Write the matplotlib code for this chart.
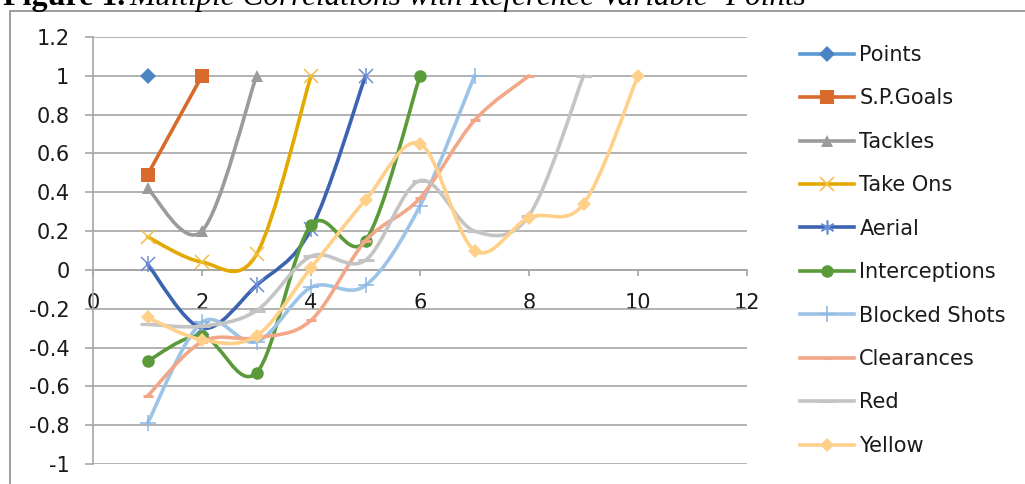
import numpy as np
import matplotlib
matplotlib.use("Agg")
import matplotlib.pyplot as plt
from matplotlib.path import Path
from matplotlib.patches import PathPatch, Rectangle
from matplotlib.lines import Line2D

# ---------------- data ----------------
series_names = ["Points", "S.P.Goals", "Tackles", "Take Ons", "Aerial",
                "Interceptions", "Blocked Shots", "Clearances", "Red", "Yellow"]
points = [1.0]
sp_goals = [0.49, 1.0]
tackles = [0.42, 0.20, 1.0]
take_ons = [0.17, 0.04, 0.08, 1.0]
aerial = [0.03, -0.30, -0.08, 0.21, 1.0]
interceptions = [-0.47, -0.34, -0.53, 0.23, 0.15, 1.0]
blocked_shots = [-0.79, -0.27, -0.37, -0.09, -0.08, 0.33, 1.0]
clearances = [-0.65, -0.37, -0.35, -0.26, 0.15, 0.37, 0.77, 1.0]
red = [-0.28, -0.29, -0.21, 0.07, 0.05, 0.46, 0.20, 0.28, 1.0]
yellow = [-0.245, -0.36, -0.34, 0.01, 0.36, 0.65, 0.10, 0.27, 0.34, 1.0]
all_series = [points, sp_goals, tackles, take_ons, aerial,
              interceptions, blocked_shots, clearances, red, yellow]

y_ticks = [-1, -0.8, -0.6, -0.4, -0.2, 0, 0.2, 0.4, 0.6, 0.8, 1, 1.2]
y_tick_labels = ["-1", "-0.8", "-0.6", "-0.4", "-0.2", "0", "0.2", "0.4",
                 "0.6", "0.8", "1", "1.2"]
x_ticks = [0, 2, 4, 6, 8, 10, 12]
x_tick_labels = ["0", "2", "4", "6", "8", "10", "12"]

# ---------------- styles ----------------
line_colors = ["#5B9BD5", "#DA6A2B", "#9B9B9B", "#E3A900", "#3C63B0",
               "#5A9A3A", "#9DC3E6", "#F2A888", "#C4C4C4", "#FFD08A"]
marker_colors = ["#4A84C2", "#DA6A2B", "#9B9B9B", "#F2C04A", "#6A8ED6",
                 "#5A9A3A", "#8DB8E6", "#F2A888", "#C4C4C4", "#FFD08A"]
markers = ["D", "s", "^", "x", "*x", "o", "+", "_", "_", "D"]
msizes = [8, 10, 9, 10, 10, 9, 11, 7, 11, 7]

W, H = 1025, 484
fig = plt.figure(figsize=(W / 100, H / 100), dpi=100)
fig.patch.set_facecolor("white")

# chart-area border (extends past right/bottom edges)
fig.patches.append(Rectangle((10 / W, -0.05), 1.2, 1 - 11 / H + 0.05,
                             transform=fig.transFigure, fill=False,
                             edgecolor="#8C8C8C", lw=1.2))

ax = fig.add_axes([93 / W, 1 - 464 / H, (747 - 93) / W, (464 - 37) / H])
ax.set_xlim(0, 12)
ax.set_ylim(-1, 1.2)

grid_c = "#A6A6A6"
for s in ["top", "right"]:
    ax.spines[s].set_visible(False)
ax.spines["left"].set_color(grid_c)
ax.spines["left"].set_linewidth(1.2)
ax.spines["bottom"].set_position(("data", 0))
ax.spines["bottom"].set_color(grid_c)
ax.spines["bottom"].set_linewidth(1.2)

ax.set_yticks(y_ticks)
ax.set_yticklabels(y_tick_labels)
ax.set_xticks(x_ticks)
ax.set_xticklabels(x_tick_labels)
ax.yaxis.grid(True, color=grid_c, lw=1.2)
ax.set_axisbelow(True)
ax.tick_params(axis="y", length=6, width=1.2, color=grid_c, pad=11,
               labelsize=15, labelcolor="#1a1a1a")
ax.tick_params(axis="x", direction="out", length=4.5, width=1.2, color=grid_c,
               pad=12, labelsize=15, labelcolor="#1a1a1a")
for lab in ax.get_xticklabels() + ax.get_yticklabels():
    lab.set_fontfamily("DejaVu Sans")


def smooth_path(xs, ys):
    P = np.column_stack([xs, ys]).astype(float)
    n = len(P)
    verts = [P[0]]
    codes = [Path.MOVETO]
    for i in range(n - 1):
        p0 = P[i - 1] if i > 0 else P[i]
        p1 = P[i]
        p2 = P[i + 1]
        p3 = P[i + 2] if i + 2 < n else P[i + 1]
        verts += [p1 + (p2 - p0) / 6.0, p2 - (p3 - p1) / 6.0, p2]
        codes += [Path.CURVE4] * 3
    return Path(verts, codes)


def draw_markers(xs, ys, m, color, ms, z, axis=ax):
    if m == "*x":
        axis.plot(xs, ys, ls="none", marker="x", ms=ms, mew=1.1, color=color, zorder=z)
        axis.plot(xs, ys, ls="none", marker="|", ms=ms * 1.15, mew=1.1, color=color, zorder=z)
    elif m in ("x", "+"):
        axis.plot(xs, ys, ls="none", marker=m, ms=ms, mew=1.1, color=color, zorder=z)
    elif m == "_":
        axis.plot(xs, ys, ls="none", marker=m, ms=ms, mew=2.2, color=color, zorder=z)
    else:
        axis.plot(xs, ys, ls="none", marker=m, ms=ms, mew=0, color=color, zorder=z)


for k, ys in enumerate(all_series):
    xs = np.arange(1, len(ys) + 1)
    z = 3 + k
    if len(ys) > 1:
        ax.add_patch(PathPatch(smooth_path(xs, ys), fill=False,
                               edgecolor=line_colors[k], lw=2.6, zorder=z,
                               capstyle="round", joinstyle="round"))
    draw_markers(xs, ys, markers[k], marker_colors[k], msizes[k], z + 0.5)

# ---------------- legend ----------------
handles = []
for k in range(len(series_names)):
    m = markers[k]
    if m == "*x":
        m = (6, 2, 0)
    h = Line2D([0], [0], color=line_colors[k], lw=2.6, marker=m,
               ms=msizes[k], mfc=marker_colors[k], mec=marker_colors[k],
               mew=(0 if m in ("D", "s", "^", "o") else 1.2 if m != "_" else 2.2))
    handles.append(h)
leg = fig.legend(handles, series_names, loc="upper left",
                 bbox_to_anchor=(800 / W, 1 - 45 / H), frameon=False,
                 borderpad=0, borderaxespad=0, handlelength=2.6,
                 handletextpad=0.25, labelspacing=1.125,
                 prop={"family": "DejaVu Sans", "size": 15})
for t in leg.get_texts():
    t.set_color("#1a1a1a")

# ---------------- title (cropped at the top, as in the reference) ----------------
t1 = fig.text(3 / W, 1 - 5 / H, "Figure 1.", fontfamily="Liberation Serif",
              fontweight="bold", fontsize=23, va="baseline", ha="left")
fig.canvas.draw()
bb = t1.get_window_extent()
fig.text(bb.x1 / W + 4 / W, 1 - 5 / H,
         "Multiple Correlations with Reference Variable- Points",
         fontfamily="Liberation Serif", fontstyle="italic", fontsize=22.5,
         va="baseline", ha="left")

fig.savefig("out.png", dpi=100)
